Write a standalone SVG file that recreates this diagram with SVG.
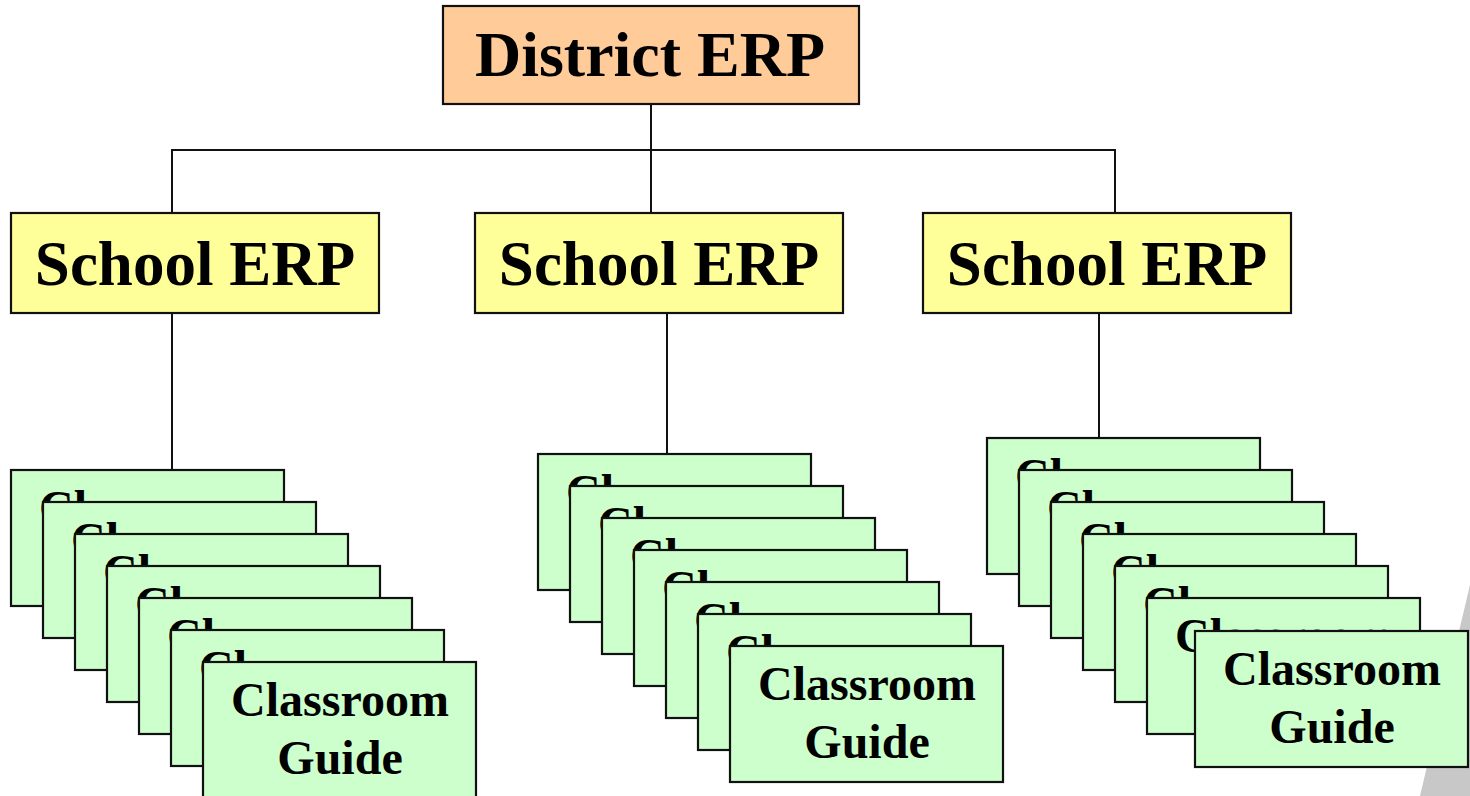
<svg xmlns="http://www.w3.org/2000/svg" xmlns:xlink="http://www.w3.org/1999/xlink" width="1470" height="796" viewBox="0 0 1470 796">
<style>
.box{stroke:#111;stroke-width:2.2}
.district{fill:#FFCC99}
.school{fill:#FFFF99}
.card{fill:#CCFFCC}
.t{font-family:"Liberation Serif","Times New Roman",serif;font-weight:bold;fill:#000;text-anchor:middle}
.big{font-size:63px}
.dbig{font-size:64px}
.small{font-size:48px}
.conn{stroke:#111;stroke-width:2;fill:none}
</style>
<defs>
<g id="cardShape">
<rect class="box card" x="0" y="0" width="273" height="136"/>
<text class="t small" x="137" y="54">Classroom</text>
<text class="t small" x="137" y="112">Guide</text>
</g>
</defs>
<rect width="1470" height="796" fill="#fff"/>
<polygon points="1470,585 1470,796 1420,796" fill="#c8c8c8"/>
<g id="connectors">
<path class="conn" d="M651,104 V213"/>
<path class="conn" d="M172,213 V150 H1115 V213"/>
<path class="conn" d="M172,313 V470"/>
<path class="conn" d="M667,313 V454"/>
<path class="conn" d="M1099,313 V438"/>
</g>
<g id="district">
<rect class="box district" x="443" y="6" width="416" height="98"/>
<text class="t dbig" x="650" y="76">District ERP</text>
</g>
<g id="school1">
<rect class="box school" x="11" y="213" width="368" height="100"/>
<text class="t big" x="195" y="285">School ERP</text>
</g>
<g id="school2">
<rect class="box school" x="475" y="213" width="368" height="100"/>
<text class="t big" x="659" y="285">School ERP</text>
</g>
<g id="school3">
<rect class="box school" x="923" y="213" width="368" height="100"/>
<text class="t big" x="1107" y="285">School ERP</text>
</g>
<g id="stack1">
<g id="c1-1"><use xlink:href="#cardShape" x="11" y="470"/></g>
<g id="c1-2"><use xlink:href="#cardShape" x="43" y="502"/></g>
<g id="c1-3"><use xlink:href="#cardShape" x="75" y="534"/></g>
<g id="c1-4"><use xlink:href="#cardShape" x="107" y="566"/></g>
<g id="c1-5"><use xlink:href="#cardShape" x="139" y="598"/></g>
<g id="c1-6"><use xlink:href="#cardShape" x="171" y="630"/></g>
<g id="c1-7"><use xlink:href="#cardShape" x="203" y="662"/></g>
</g>
<g id="stack2">
<g id="c2-1"><use xlink:href="#cardShape" x="538" y="454"/></g>
<g id="c2-2"><use xlink:href="#cardShape" x="570" y="486"/></g>
<g id="c2-3"><use xlink:href="#cardShape" x="602" y="518"/></g>
<g id="c2-4"><use xlink:href="#cardShape" x="634" y="550"/></g>
<g id="c2-5"><use xlink:href="#cardShape" x="666" y="582"/></g>
<g id="c2-6"><use xlink:href="#cardShape" x="698" y="614"/></g>
<g id="c2-7"><use xlink:href="#cardShape" x="730" y="646"/></g>
</g>
<g id="stack3">
<g id="c3-1"><use xlink:href="#cardShape" x="987" y="438"/></g>
<g id="c3-2"><use xlink:href="#cardShape" x="1019" y="470"/></g>
<g id="c3-3"><use xlink:href="#cardShape" x="1051" y="502"/></g>
<g id="c3-4"><use xlink:href="#cardShape" x="1083" y="534"/></g>
<g id="c3-5"><use xlink:href="#cardShape" x="1115" y="566"/></g>
<g id="c3-6"><use xlink:href="#cardShape" x="1147" y="598"/></g>
<g id="c3-7"><use xlink:href="#cardShape" x="1195" y="631"/></g>
</g>
</svg>
